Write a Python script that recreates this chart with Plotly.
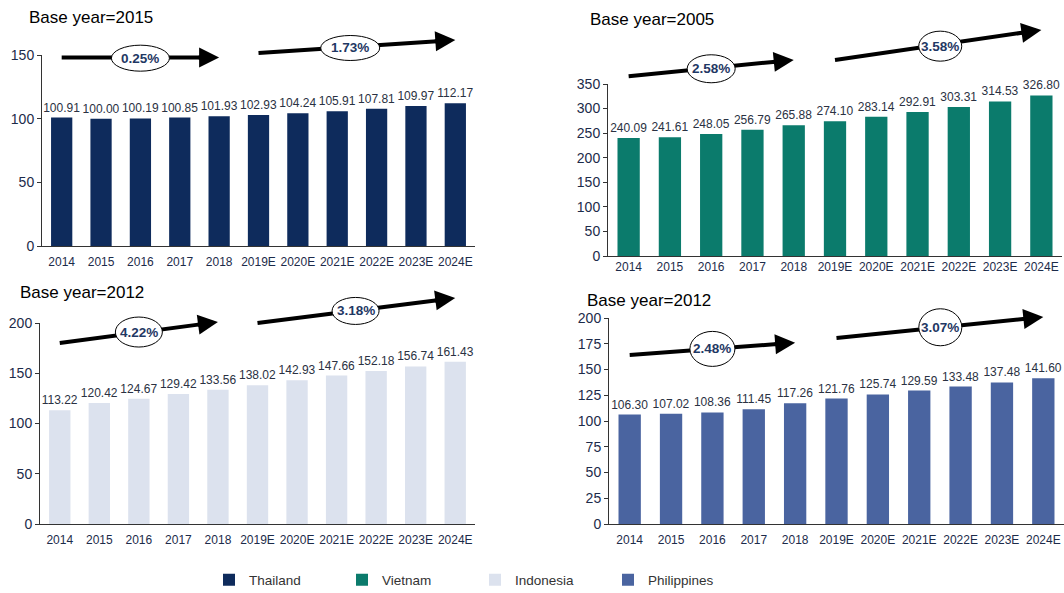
import math
import plotly.graph_objects as go

# Categories shared by all four panels
years = ["2014", "2015", "2016", "2017", "2018", "2019E", "2020E",
         "2021E", "2022E", "2023E", "2024E"]

# Index values per country
thailand = [100.91, 100.00, 100.19, 100.85, 101.93, 102.93, 104.24, 105.91, 107.81, 109.97, 112.17]
vietnam = [240.09, 241.61, 248.05, 256.79, 265.88, 274.10, 283.14, 292.91, 303.31, 314.53, 326.80]
indonesia = [113.22, 120.42, 124.67, 129.42, 133.56, 138.02, 142.93, 147.66, 152.18, 156.74, 161.43]
philippines = [106.30, 107.02, 108.36, 111.45, 117.26, 121.76, 125.74, 129.59, 133.48, 137.48, 141.60]

# Growth labels (historic, forecast)
thailand_cagr = ["0.25%", "1.73%"]
vietnam_cagr = ["2.58%", "3.58%"]
indonesia_cagr = ["4.22%", "3.18%"]
philippines_cagr = ["2.48%", "3.07%"]

base_years = ["Base year=2015", "Base year=2005", "Base year=2012", "Base year=2012"]
names = ["Thailand", "Vietnam", "Indonesia", "Philippines"]
colors = ["#0E2B5C", "#0B7B6C", "#DCE2EE", "#4A64A0"]

W, H = 1064, 593


def px(x):
    return x / W


def py(y):
    return 1 - y / H


# panel layout: (x start, x end, y pixel of 0, y pixel of top, top value, dtick, tick gap)
panels = [
    (42, 475, 246, 55, 150, 50, 5),
    (608, 1062, 256, 84, 350, 50, 0),
    (40, 475, 524, 323, 200, 50, 5),
    (609, 1064, 524, 318, 200, 25, 5),
]

# arrows in value units: (tail_y, head_y, ellipse_x, ellipse_y, ellipse_w, ellipse_h)
arrows = [
    [(148, 148, 2.0, 147.5, 58, 26), (151.6, 161.8, 7.33, 155.5, 59, 25)],
    [(366, 399, 2.0, 381, 48, 28), (399, 460, 7.55, 427, 43, 30)],
    [(180, 201, 2.0, 191, 47, 30), (200, 225, 7.48, 212, 47, 27)],
    [(164, 176, 2.0, 170, 45, 35), (180.6, 201, 7.51, 191, 43, 37)],
]
cagrs = [thailand_cagr, vietnam_cagr, indonesia_cagr, philippines_cagr]
series = [thailand, vietnam, indonesia, philippines]
title_pos = [(27, 17), (588, 20), (18, 292), (585, 300)]


def to_px(i, k, v):
    """Category index / value of panel i -> screen pixel."""
    x0p, x1p, y0p, ytp, top = panels[i][:5]
    step = (x1p - x0p) / len(years)
    return x0p + (k + 0.5) * step, y0p - v * (y0p - ytp) / top


fig = go.Figure()
shapes = []
annotations = []
tick_color = "#1C2B4A"
font_fam = "Liberation Sans, Arial"

for i, (vals, name, col) in enumerate(zip(series, names, colors)):
    n = "" if i == 0 else str(i + 1)
    xa, ya = "x" + n, "y" + n
    fig.add_trace(go.Bar(
        x=years, y=vals, name=name, marker_color=col, marker_line_width=0,
        xaxis=xa, yaxis=ya,
        texttemplate="%{y:.2f}", textposition="outside", cliponaxis=False,
        constraintext="none",
        textfont=dict(size=12, color="#2A3142", family=font_fam),
        hoverinfo="x+y",
    ))
    x0p, x1p, y0p, ytp, top, dt, tgap = panels[i]
    fig.update_layout(**{
        "xaxis" + n: dict(domain=[px(x0p), px(x1p)], anchor=ya, type="category",
                          showline=True, linecolor="#333333", linewidth=1,
                          ticks="outside" if tgap else "", ticklen=max(tgap, 1),
                          tickcolor="rgba(0,0,0,0)", showgrid=False,
                          tickfont=dict(size=12, color=tick_color, family=font_fam)),
        "yaxis" + n: dict(domain=[py(y0p), py(ytp)], anchor=xa, range=[0, top],
                          dtick=dt, showline=True, linecolor="#333333", linewidth=1,
                          ticks="outside", ticklen=4, tickcolor="#333333",
                          showgrid=False, zeroline=False,
                          tickfont=dict(size=14, color=tick_color, family=font_fam)),
    })

    # growth arrows with labelled ellipses
    for j, (ty, hy, ex, ey, ew, eh) in enumerate(arrows[i]):
        tk, hk = (0, 4) if j == 0 else (5, 10)
        tpx, tpy = to_px(i, tk, ty)
        hpx, hpy = to_px(i, hk, hy)
        L = math.hypot(hpx - tpx, hpy - tpy)
        stem = 22
        mpx = hpx - (hpx - tpx) * stem / L
        mpy = hpy - (hpy - tpy) * stem / L
        shapes.append(dict(type="line", xref="paper", yref="paper",
                           x0=px(tpx), y0=py(tpy), x1=px(mpx + (hpx - tpx) * 4 / L),
                           y1=py(mpy + (hpy - tpy) * 4 / L),
                           line=dict(color="black", width=4), layer="above"))
        epx, epy = to_px(i, ex, ey)
        shapes.append(dict(type="circle", xref="paper", yref="paper", xsizemode="pixel",
                           ysizemode="pixel", xanchor=px(epx), yanchor=py(epy),
                           x0=-ew / 2, x1=ew / 2, y0=-eh / 2, y1=eh / 2,
                           fillcolor="white", line=dict(color="black", width=1),
                           layer="above"))
        annotations.append(dict(xref="paper", yref="paper", x=px(hpx), y=py(hpy),
                                ax=mpx - hpx, ay=mpy - hpy,
                                text="", showarrow=True, arrowhead=2, arrowsize=1,
                                arrowwidth=4, arrowcolor="black", standoff=0))
        annotations.append(dict(xref="paper", yref="paper", x=px(epx), y=py(epy),
                                xanchor="center", yanchor="middle",
                                text="<b>%s</b>" % cagrs[i][j], showarrow=False,
                                font=dict(size=13.5, color="#1F3864", family=font_fam)))

    tx_, ty_ = title_pos[i]
    annotations.append(dict(xref="paper", yref="paper", x=px(tx_), y=py(ty_),
                            xanchor="left", yanchor="middle", text=base_years[i],
                            showarrow=False,
                            font=dict(size=17, color="black", family=font_fam)))

fig.update_layout(
    width=W, height=H,
    margin=dict(l=0, r=0, t=0, b=0, autoexpand=False),
    paper_bgcolor="white", plot_bgcolor="white",
    bargap=0.46,
    shapes=shapes, annotations=annotations,
    showlegend=True,
    legend=dict(orientation="h", x=px(209), y=py(580), xanchor="left", yanchor="middle",
                entrywidth=88, entrywidthmode="pixels",
                font=dict(size=13.5, color="#333333", family=font_fam)),
)

fig.write_html("out.html")
